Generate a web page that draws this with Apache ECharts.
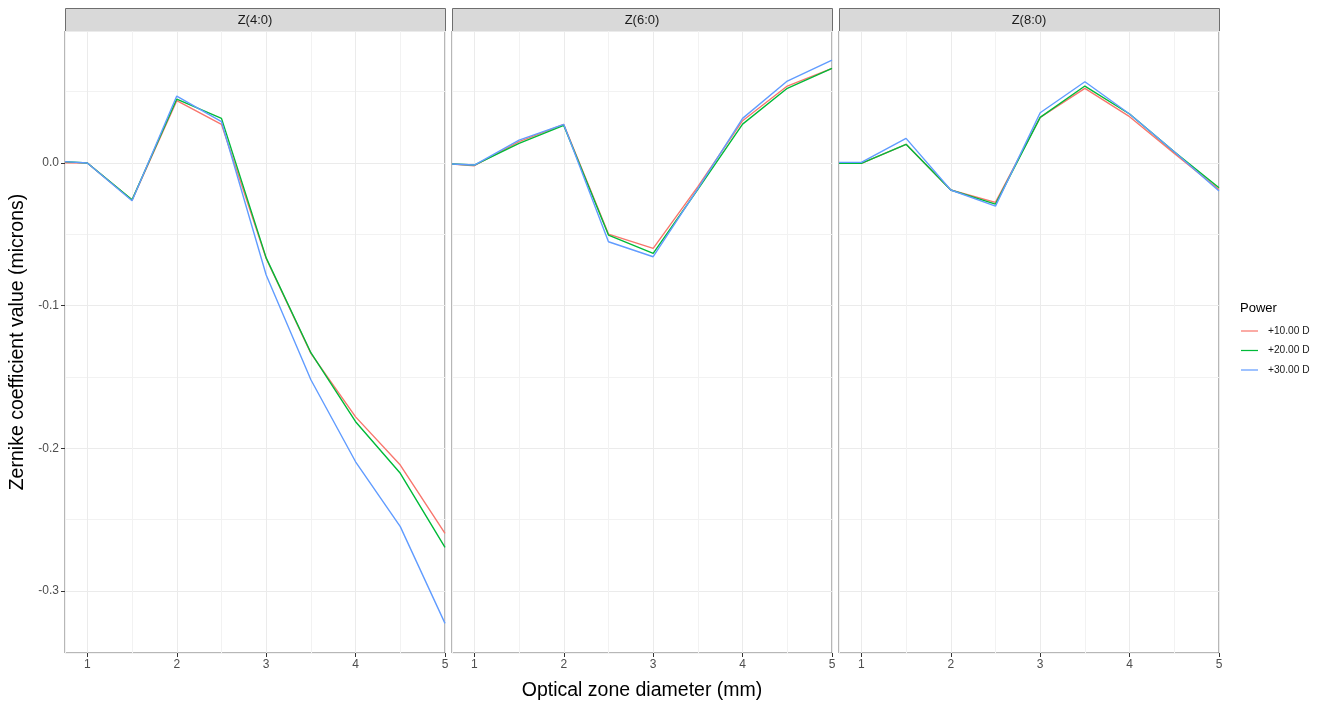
<!DOCTYPE html>
<html>
<head>
<meta charset="utf-8">
<script src="https://cdn.jsdelivr.net/npm/echarts@6/dist/echarts.min.js"></script>
<style>
html,body{margin:0;padding:0;background:#fff;}
#chart{width:1322px;height:704px;}
</style>
</head>
<body>
<div id="chart"></div>
<script>
// ---- data ----
const xValues = [0.75, 1, 1.5, 2, 2.5, 3, 3.5, 4, 4.5, 5];
const panels = ['Z(4:0)', 'Z(6:0)', 'Z(8:0)'];
const powers = ['+10.00 D', '+20.00 D', '+30.00 D'];
const xTickLabels = [1, 2, 3, 4, 5];
const yTickLabels = [-0.3, -0.2, -0.1, 0];

const z40_p10 = [0.0002, 0.0000, -0.0260, 0.0437, 0.0271, -0.0669, -0.1335, -0.1780, -0.2118, -0.2597];
const z40_p20 = [0.0010, 0.0000, -0.0258, 0.0449, 0.0313, -0.0665, -0.1330, -0.1814, -0.2176, -0.2695];
const z40_p30 = [0.0010, 0.0000, -0.0264, 0.0470, 0.0290, -0.0785, -0.1520, -0.2095, -0.2550, -0.3228];

const z60_p10 = [-0.0007, -0.0019, 0.0150, 0.0271, -0.0498, -0.0598, -0.0165, 0.0297, 0.0540, 0.0664];
const z60_p20 = [-0.0007, -0.0014, 0.0138, 0.0264, -0.0505, -0.0634, -0.0185, 0.0273, 0.0524, 0.0664];
const z60_p30 = [-0.0007, -0.0014, 0.0161, 0.0271, -0.0552, -0.0657, -0.0180, 0.0313, 0.0575, 0.0722];

const z80_p10 = [-0.0002, -0.0002, 0.0131, -0.0189, -0.0276, 0.0320, 0.0524, 0.0325, 0.0068, -0.0185];
const z80_p20 = [-0.0002, -0.0002, 0.0131, -0.0189, -0.0288, 0.0320, 0.0540, 0.0344, 0.0079, -0.0173];
const z80_p30 = [0.0005, 0.0005, 0.0173, -0.0189, -0.0302, 0.0353, 0.0570, 0.0344, 0.0079, -0.0196];

const panelData = [
  [z40_p10, z40_p20, z40_p30],
  [z60_p10, z60_p20, z60_p30],
  [z80_p10, z80_p20, z80_p30]
];

// ---- styles / layout ----
const colors = ['#F8766D', '#00BA38', '#619CFF'];
const FONT = '"Liberation Sans", Arial, sans-serif';
const gridLefts = [65, 452, 839];
const gridW = 380;
const gridTop = 31;
const gridH = 622;
const X_MIN = 0.75, X_MAX = 5;
const Y_MIN = -0.3436, Y_MAX = 0.0926;
const gridColors = ['#f2f2f2', '#ebebeb']; // [minor, major]
const borderColor = '#6e6e6e';

const grids = [], xAxes = [], yAxes = [], series = [], graphics = [];

panels.forEach((name, p) => {
  grids.push({
    left: gridLefts[p], top: gridTop, width: gridW, height: gridH,
    show: true, borderColor: borderColor, borderWidth: 1, backgroundColor: 'transparent',
    containLabel: false
  });
  // axis A: grid lines (major + minor)
  xAxes.push({
    type: 'value', gridIndex: p, min: X_MIN, max: X_MAX, splitNumber: 9, position: 'bottom',
    axisLine: { show: false, onZero: false },
    axisTick: { show: false },
    axisLabel: { show: false },
    splitLine: { show: true, lineStyle: { color: gridColors, width: 1 } }
  });
  yAxes.push({
    type: 'value', gridIndex: p, min: Y_MIN, max: Y_MAX, splitNumber: 10, position: 'left',
    axisLine: { show: false, onZero: false },
    axisTick: { show: false },
    axisLabel: { show: false },
    splitLine: { show: true, lineStyle: { color: gridColors, width: 1 } }
  });
  panelData[p].forEach((vals, s) => {
    series.push({
      type: 'line', name: powers[s], xAxisIndex: p, yAxisIndex: p,
      data: xValues.map((x, i) => [x, vals[i]]),
      showSymbol: false, symbol: 'none',
      lineStyle: { color: colors[s], width: 1.4 },
      itemStyle: { color: colors[s] },
      emphasis: { disabled: true }, silent: true, animation: false,
      z: 3 + s
    });
  });
  // strip
  graphics.push({
    type: 'rect', left: gridLefts[p], top: 8,
    shape: { width: gridW, height: gridTop - 8 },
    style: { fill: '#d9d9d9', stroke: borderColor, lineWidth: 1 }, silent: true
  });
  graphics.push({
    type: 'text', x: gridLefts[p] + gridW / 2, y: 20,
    style: { text: name, fill: '#1a1a1a', font: '13px ' + FONT, textAlign: 'center', textVerticalAlign: 'middle' },
    silent: true
  });
});

// axis B: ticks and labels
panels.forEach((name, p) => {
  xAxes.push({
    type: 'value', gridIndex: p, min: X_MIN, max: X_MAX, position: 'bottom', offset: 0,
    axisLine: { show: false, onZero: false },
    axisTick: { show: true, length: 4, lineStyle: { color: '#333', width: 1 }, customValues: xTickLabels },
    axisLabel: {
      show: true, color: '#4d4d4d', fontSize: 12, fontFamily: FONT, margin: 6,
      customValues: xTickLabels,
      formatter: v => String(Math.round(v))
    },
    splitLine: { show: false }
  });
});
yAxes.push({
  type: 'value', gridIndex: 0, min: Y_MIN, max: Y_MAX, position: 'left', offset: 0,
  axisLine: { show: false, onZero: false },
  axisTick: { show: true, length: 4, lineStyle: { color: '#333', width: 1 }, customValues: yTickLabels },
  axisLabel: {
    show: true, color: '#4d4d4d', fontSize: 12, fontFamily: FONT, margin: 6,
    customValues: yTickLabels,
    formatter: v => v.toFixed(1)
  },
  splitLine: { show: false }
});

// axis titles
graphics.push({
  type: 'text', x: 642, y: 691,
  style: { text: 'Optical zone diameter (mm)', fill: '#000', font: '19.5px ' + FONT, textAlign: 'center', textVerticalAlign: 'middle' },
  silent: true
});
graphics.push({
  type: 'text', x: 17.5, y: 342, rotation: Math.PI / 2,
  style: { text: 'Zernike coefficient value (microns)', fill: '#000', font: '19.5px ' + FONT, textAlign: 'center', textVerticalAlign: 'middle' },
  silent: true
});
// legend title
graphics.push({
  type: 'text', x: 1240, y: 308,
  style: { text: 'Power', fill: '#000', font: '13px ' + FONT, textAlign: 'left', textVerticalAlign: 'middle' },
  silent: true
});

const chart = echarts.init(document.getElementById('chart'), null, { renderer: 'canvas' });
chart.setOption({
  animation: false,
  backgroundColor: '#ffffff',
  grid: grids,
  xAxis: xAxes,
  yAxis: yAxes,
  legend: {
    data: powers.map((n, i) => ({ name: n, icon: 'path://M0,0 L18,0 L18,1.3 L0,1.3 Z', itemStyle: { color: colors[i] } })),
    orient: 'vertical', left: 1241, top: 326,
    itemWidth: 17, itemHeight: 1.3, itemGap: 9.5,
    textStyle: { fontSize: 10.2, fontFamily: FONT, color: '#1a1a1a', padding: [0, 0, 0, 5] },
    selectedMode: false, padding: 0
  },
  series: series,
  graphic: graphics
});
</script>
</body>
</html>
